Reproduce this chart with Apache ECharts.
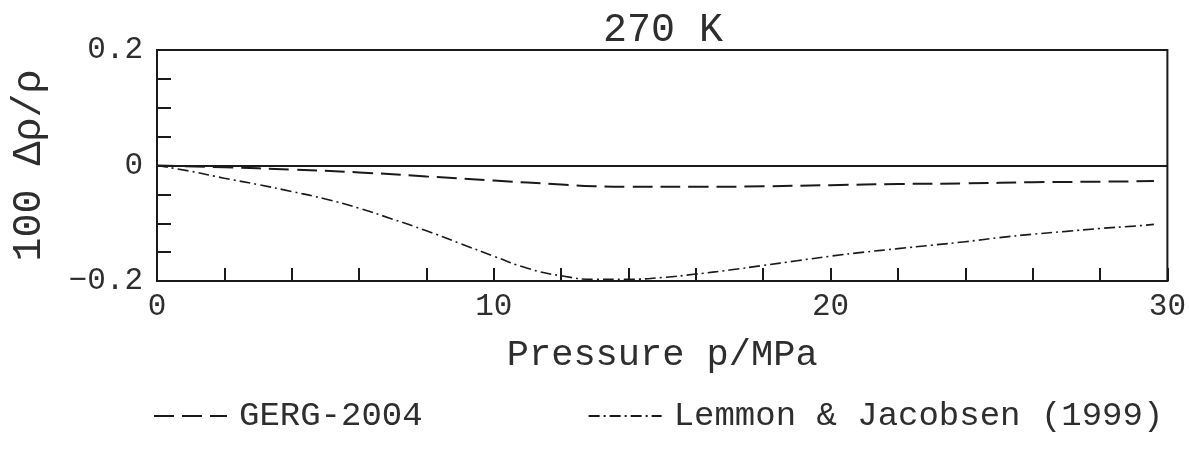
<!DOCTYPE html>
<html>
<head>
<meta charset="utf-8">
<script src="https://cdn.jsdelivr.net/npm/echarts@6/dist/echarts.min.js"></script>
<style>html,body{margin:0;padding:0;background:#fff;}#chart{width:1189px;height:454px;}</style>
</head>
<body>
<div id="chart"></div>
<script>
var titleText = '270 K';
var xAxisName = 'Pressure p/MPa';
var yAxisName = '100 \u0394\u03c1/\u03c1';
var seriesNames = ['GERG-2004', 'Lemmon & Jacobsen (1999)'];

var gergP = [0, 2, 4, 6, 8, 10, 12, 13, 14, 16, 18, 20, 22, 24, 26, 28, 29.6];
var gergV = [0, -0.003, -0.007, -0.012, -0.019, -0.026, -0.033, -0.036, -0.037, -0.037, -0.036, -0.034, -0.032, -0.031, -0.029, -0.028, -0.027];

var lemP = [0, 1, 2, 3, 4, 5, 6, 7, 8, 9, 10, 11, 12, 13, 14, 15, 16, 17, 18, 19, 20, 21, 22, 23, 24, 25, 26, 27, 28, 29, 29.6];
var lemV = [0, -0.010, -0.022, -0.033, -0.045, -0.058, -0.074, -0.093, -0.113, -0.135, -0.157, -0.178, -0.191, -0.197, -0.197, -0.194, -0.188, -0.181, -0.173, -0.165, -0.157, -0.150, -0.144, -0.138, -0.132, -0.125, -0.119, -0.114, -0.109, -0.105, -0.102];

var xLabels = {0: '0', 10: '10', 20: '20', 30: '30'};
var yLabels = [[0.2, '0.2'], [0, '0'], [-0.2, '\u22120.2']];

function pairs(xs, ys) { return xs.map(function (x, i) { return [x, ys[i]]; }); }

var FONT = '"Liberation Mono", "Courier New", monospace';
var INK = '#1a1a1a';
var TXT = '#2e2e2e';

var chart = echarts.init(document.getElementById('chart'));
chart.setOption({
  backgroundColor: '#ffffff',
  animation: false,
  textStyle: { fontFamily: FONT, color: TXT },
  title: {
    text: titleText, left: 658, textAlign: 'center', top: 5,
    textStyle: { fontFamily: FONT, fontSize: 40, fontWeight: 'normal', color: TXT }
  },
  grid: {
    left: 157, right: 21, top: 50, bottom: 173,
    show: true, borderColor: INK, borderWidth: 2, backgroundColor: 'transparent'
  },
  legend: {
    left: 148, top: 394, itemWidth: 73, itemHeight: 14, itemGap: 165,
    itemStyle: { opacity: 0 },
    textStyle: { fontFamily: FONT, fontSize: 34, color: TXT, padding: [0, 0, 0, 7] },
    data: seriesNames
  },
  xAxis: {
    type: 'value', min: 0, max: 30, interval: 2,
    name: xAxisName, nameLocation: 'middle', nameGap: 56,
    nameTextStyle: { fontFamily: FONT, fontSize: 37, color: TXT },
    axisLine: { show: true, onZero: false, lineStyle: { color: INK, width: 2 } },
    axisTick: { show: true, inside: true, length: 13, lineStyle: { color: INK, width: 2 } },
    axisLabel: {
      margin: 10, fontFamily: FONT, fontSize: 31, color: TXT,
      formatter: function (v) { return xLabels[Math.round(v)] !== undefined && Math.abs(v - Math.round(v)) < 1e-9 ? xLabels[Math.round(v)] : ''; }
    },
    splitLine: { show: false }
  },
  yAxis: {
    type: 'value', min: -0.2, max: 0.2, interval: 0.05,
    name: yAxisName, nameLocation: 'middle', nameGap: 108,
    nameTextStyle: { fontFamily: FONT, fontSize: 40, color: TXT },
    axisLine: { show: true, onZero: false, lineStyle: { color: INK, width: 2 } },
    axisTick: { show: true, inside: true, length: 14, lineStyle: { color: INK, width: 2 } },
    axisLabel: {
      margin: 14, fontFamily: FONT, fontSize: 31, color: TXT,
      formatter: function (v) {
        for (var i = 0; i < yLabels.length; i++) { if (Math.abs(v - yLabels[i][0]) < 1e-9) return yLabels[i][1]; }
        return '';
      }
    },
    splitLine: { show: false }
  },
  series: [
    {
      name: seriesNames[0], type: 'line', data: pairs(gergP, gergV),
      smooth: true, symbol: 'none', showSymbol: false,
      lineStyle: { color: INK, width: 2, type: [20, 8] },
      itemStyle: { color: INK },
      markLine: {
        silent: true, symbol: ['none', 'none'], label: { show: false },
        lineStyle: { color: INK, width: 2, type: 'solid' },
        data: [{ yAxis: 0 }]
      }
    },
    {
      name: seriesNames[1], type: 'line', data: pairs(lemP, lemV),
      smooth: true, symbol: 'none', showSymbol: false,
      lineStyle: { color: INK, width: 1.6, type: [11, 4, 2, 4] },
      itemStyle: { color: INK }
    }
  ]
});
</script>
</body>
</html>
